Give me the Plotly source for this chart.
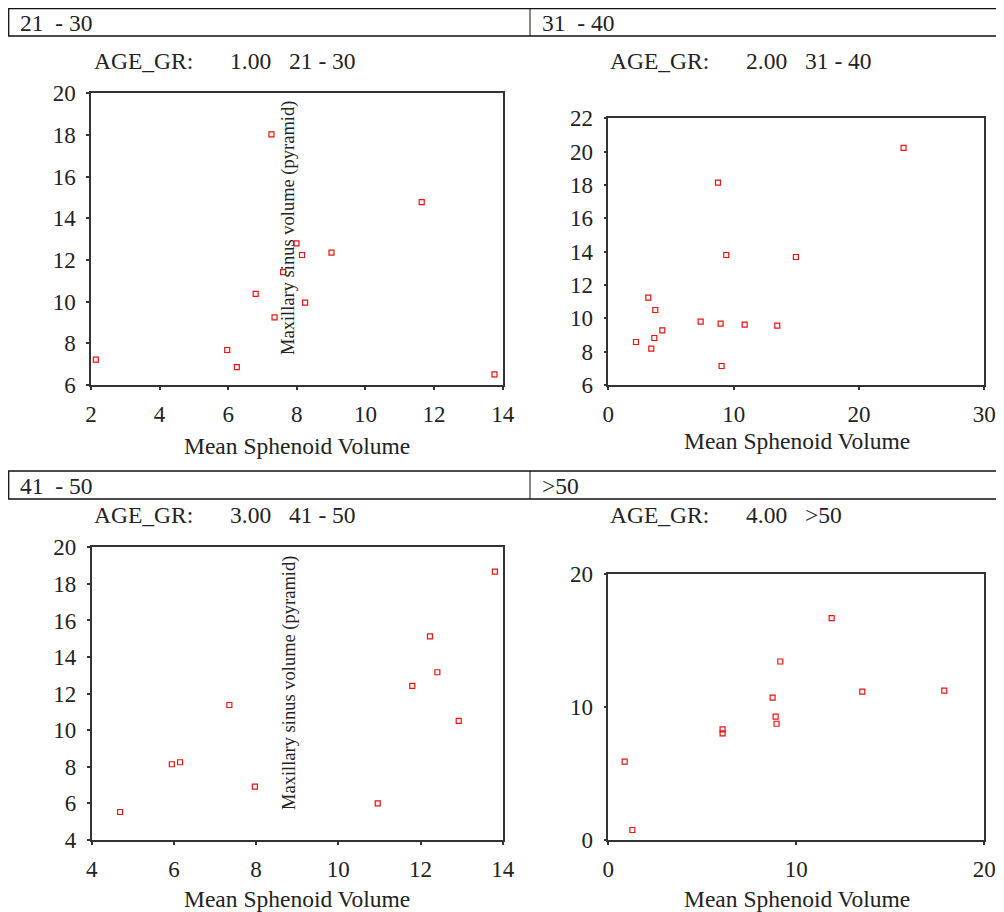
import plotly.graph_objects as go

W, H = 1004, 912
OFF = 8  # page body margin: the figure is drawn 8px in from the top-left corner

# ---------------- data ----------------
g1_x = [2.14, 5.97, 6.25, 6.80, 7.26, 7.35, 7.60, 7.99, 8.15, 8.24, 9.01, 11.64, 13.76]
g1_y = [7.22, 7.68, 6.86, 10.37, 18.03, 9.25, 11.42, 12.80, 12.24, 9.95, 12.35, 14.78, 6.51]

g2_x = [2.21, 3.19, 3.43, 3.67, 3.75, 4.31, 7.37, 8.75, 8.96, 9.04, 9.41, 10.88, 13.48, 14.97, 23.56]
g2_y = [8.58, 11.24, 8.18, 8.82, 10.50, 9.28, 9.80, 18.14, 9.68, 7.14, 13.80, 9.62, 9.56, 13.68, 20.22]

g3_x = [4.69, 5.95, 6.15, 7.35, 7.97, 10.96, 11.80, 12.23, 12.41, 12.93, 13.81]
g3_y = [5.53, 8.14, 8.25, 11.38, 6.92, 6.00, 12.42, 15.13, 13.17, 10.51, 18.67]

g4_x = [0.87, 1.28, 6.08, 6.08, 8.74, 8.90, 8.95, 9.15, 11.88, 13.51, 17.87]
g4_y = [5.90, 0.75, 8.32, 8.02, 10.70, 9.27, 8.74, 13.42, 16.68, 11.16, 11.23]

group_codes = ["1.00", "2.00", "3.00", "4.00"]
group_labels = ["21 - 30", "31 - 40", "41 - 50", ">50"]
strip_labels = ["21\u00a0\u00a0- 30", "31\u00a0\u00a0- 40", "41\u00a0\u00a0- 50", ">50"]

x_ranges = [[2, 14], [0, 30], [4, 14], [0, 20]]
y_ranges = [[6, 20], [6, 22], [4, 20], [0, 20]]
x_ticks = [[2, 4, 6, 8, 10, 12, 14], [0, 10, 20, 30], [4, 6, 8, 10, 12, 14], [0, 10, 20]]
y_ticks = [[6, 8, 10, 12, 14, 16, 18, 20], [6, 8, 10, 12, 14, 16, 18, 20, 22],
           [4, 6, 8, 10, 12, 14, 16, 18, 20], [0, 10, 20]]

x_title = "Mean Sphenoid Volume"
y_title = "Maxillary sinus volume (pyramid)"
title_prefix = "AGE_GR:"

# ---------------- layout (screen pixels) ----------------
# plot boxes: left, right, top, bottom
boxes = [(91, 502.7, 93.3, 385), (608.3, 984.3, 118.3, 385),
         (91.7, 502.7, 547.3, 840), (608.3, 984.3, 574, 840)]

def px(x):
    return (x - OFF) / W

def py(y):
    return 1 - (y - OFF) / H

FONT = "Liberation Serif"
TXT = "#222222"
LINE = "#333333"

fig = go.Figure()
series = [(g1_x, g1_y), (g2_x, g2_y), (g3_x, g3_y), (g4_x, g4_y)]
for i, (xs, ys) in enumerate(series):
    n = i + 1
    fig.add_trace(go.Scatter(
        x=xs, y=ys, mode="markers",
        marker=dict(symbol="square-open", size=5, color="#ee1111", line=dict(width=1.2)),
        xaxis=f"x{n}", yaxis=f"y{n}", showlegend=False, hoverinfo="x+y"))
    l, r, t, b = boxes[i]
    axcommon = dict(showline=True, mirror=True, linecolor=LINE, linewidth=1.5,
                    showgrid=False, zeroline=False, ticks="outside", ticklen=3,
                    tickwidth=1.5, tickcolor=LINE, automargin=False,
                    tickfont=dict(family=FONT, size=23, color=TXT))
    fig.layout[f"xaxis{n}"] = dict(domain=[px(l), px(r)], range=x_ranges[i],
                                   tickvals=x_ticks[i], anchor=f"y{n}",
                                   ticklabelstandoff=5, **axcommon)
    fig.layout[f"yaxis{n}"] = dict(domain=[py(b), py(t)], range=y_ranges[i],
                                   tickvals=y_ticks[i], anchor=f"x{n}",
                                   ticklabelstandoff=6, **axcommon)

annotations = []
shapes = []

def text(x, y, s, size=23.5, xanchor="left", angle=0):
    annotations.append(dict(x=px(x), y=py(y), xref="paper", yref="paper", text=s,
                            showarrow=False, xanchor=xanchor, yanchor="middle",
                            textangle=angle,
                            font=dict(family=FONT, size=size, color=TXT)))

# strips
for (top, bot) in [(7.3, 36), (471, 499)]:
    shapes.append(dict(type="rect", xref="paper", yref="paper",
                       x0=px(8.7), x1=px(1030), y0=py(bot), y1=py(max(top, 8.7)),
                       line=dict(color="#111111", width=1.3)))
    shapes.append(dict(type="line", xref="paper", yref="paper",
                       x0=px(530), x1=px(530), y0=py(bot), y1=py(max(top, 8.7)),
                       line=dict(color="#111111", width=1)))

strip_pos = [(18, 23), (540, 23), (18, 486), (540, 486)]
for i, (sx, sy) in enumerate(strip_pos):
    text(sx, sy, strip_labels[i])

# panel titles
title_pos = [(92, 61), (608, 61), (92, 515), (608, 515)]
for i, (tx, ty) in enumerate(title_pos):
    text(tx, ty, title_prefix)
    text(tx + 136, ty, group_codes[i])
    text(tx + 195, ty, group_labels[i])

# x titles
xt_pos = [(297, 446), (797, 441), (297, 899), (797, 899)]
for (xx, yy) in xt_pos:
    text(xx, yy, x_title, xanchor="center")

# y titles (only left panels, as in the original)
for (xx, yy) in [(289, 228), (289, 683)]:
    text(xx, yy, y_title, size=18.5, xanchor="center", angle=-90)

fig.update_layout(width=W, height=H, margin=dict(l=0, r=0, t=0, b=0, autoexpand=False),
                  paper_bgcolor="white", plot_bgcolor="white",
                  annotations=annotations, shapes=shapes)

fig.write_html("out.html")
